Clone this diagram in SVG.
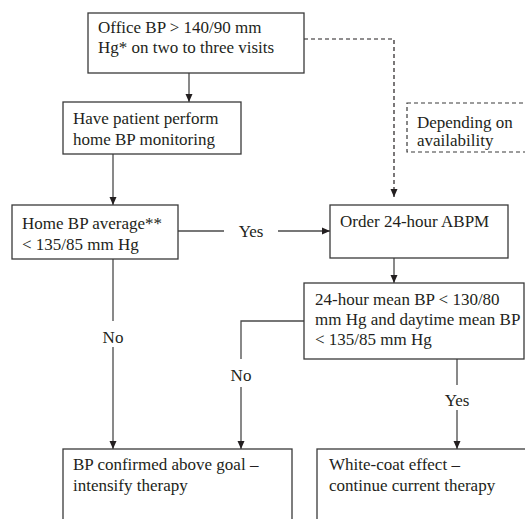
<svg xmlns="http://www.w3.org/2000/svg" width="525" height="519" viewBox="0 0 525 519">
<defs>
<marker id="ah" markerWidth="8" markerHeight="8" viewBox="0 0 8 8" refX="8" refY="4" orient="auto" markerUnits="userSpaceOnUse">
<path d="M0,0.5 L8,4 L0,7.5 Z" fill="#231f20"/>
</marker>
<style>
.box{fill:#fff;stroke:#3a3a3a;stroke-width:1.3}
.dbox{fill:#fff;stroke:#3a3a3a;stroke-width:1.2;stroke-dasharray:4 3}
.ln{fill:none;stroke:#4a4a4a;stroke-width:1.3}
.dl{fill:none;stroke:#231f20;stroke-width:1.2;stroke-dasharray:4 3}
.c{text-anchor:middle}
</style>
</defs>
<rect width="525" height="519" fill="#fff"/>
<g font-family="'Liberation Serif', 'Times New Roman', Times, serif" font-size="17" fill="#231f20">
<g id="connectors">
<path class="dl" d="M304,39 H394 V197" marker-end="url(#ah)"/>
<path class="ln" d="M189,73 V102" marker-end="url(#ah)"/>
<path class="ln" d="M113,154 V205" marker-end="url(#ah)"/>
<path class="ln" d="M178,231 H224"/>
<path class="ln" d="M278,231 H330" marker-end="url(#ah)"/>
<path class="ln" d="M394,258 V283" marker-end="url(#ah)"/>
<path class="ln" d="M113,259 V321"/>
<path class="ln" d="M113,347 V449" marker-end="url(#ah)"/>
<path class="ln" d="M304,321 H241 V359"/>
<path class="ln" d="M241,387 V449" marker-end="url(#ah)"/>
<path class="ln" d="M457,359 V385"/>
<path class="ln" d="M457,410 V449" marker-end="url(#ah)"/>
<text class="c" x="251" y="237">Yes</text>
<text class="c" x="113" y="343">No</text>
<text class="c" x="241" y="381">No</text>
<text class="c" x="457" y="406">Yes</text>
</g>
<g id="office">
<rect class="box" x="88" y="13" width="216" height="60"/>
<text x="98" y="33">Office BP &gt; 140/90 mm</text>
<text x="98" y="53">Hg* on two to three visits</text>
</g>
<g id="depending">
<rect class="dbox" x="407" y="103" width="130" height="49"/>
<text x="417" y="128">Depending on</text>
<text x="417" y="146">availability</text>
</g>
<g id="home-monitoring">
<rect class="box" x="63" y="102" width="178" height="52"/>
<text x="73" y="124">Have patient perform</text>
<text x="73" y="145">home BP monitoring</text>
</g>
<g id="home-average">
<rect class="box" x="12" y="205" width="166" height="54"/>
<text x="22" y="229">Home BP average**</text>
<text x="22" y="250">&lt; 135/85 mm Hg</text>
</g>
<g id="abpm">
<rect class="box" x="330" y="205" width="178" height="53"/>
<text x="340" y="227">Order 24-hour ABPM</text>
</g>
<g id="mean">
<rect class="box" x="304" y="283" width="220" height="76"/>
<text x="315" y="305">24-hour mean BP &lt; 130/80</text>
<text x="315" y="325">mm Hg and daytime mean BP</text>
<text x="315" y="345">&lt; 135/85 mm Hg</text>
</g>
<g id="confirmed">
<rect class="box" x="63" y="449" width="229" height="90"/>
<text x="73" y="470">BP confirmed above goal –</text>
<text x="73" y="491">intensify therapy</text>
</g>
<g id="whitecoat">
<rect class="box" x="317" y="449" width="220" height="90"/>
<text x="329" y="470">White-coat effect –</text>
<text x="329" y="491">continue current therapy</text>
</g>
</g>
</svg>
